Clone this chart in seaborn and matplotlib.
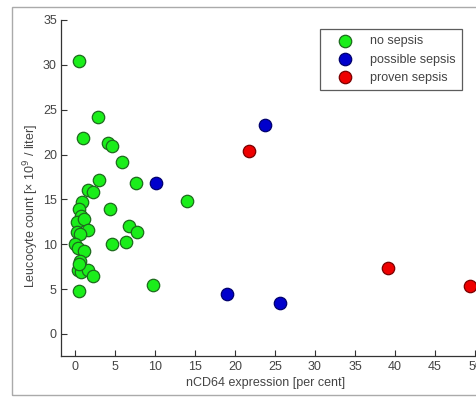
import matplotlib
matplotlib.use("Agg")
import matplotlib.pyplot as plt
import matplotlib.patches as mpatches
import seaborn as sns
import pandas as pd

# ---- data ----
no_sepsis_x = [0.5, 2.9, 1.0, 4.1, 4.6, 5.9, 3.0, 7.6, 1.6, 2.3, 0.9, 4.4, 0.5, 0.8,
               0.3, 1.1, 6.8, 7.7, 0.2, 1.6, 0.6, 4.6, 6.4, 0.0, 0.4, 1.1, 0.6, 0.4,
               0.8, 1.6, 2.3, 0.5, 9.8, 14.0, 0.5]
no_sepsis_y = [30.4, 24.2, 21.8, 21.3, 21.0, 19.2, 17.2, 16.8, 16.0, 15.8, 14.7, 13.9, 13.9, 13.2,
               12.5, 12.8, 12.0, 11.4, 11.4, 11.6, 11.2, 10.0, 10.2, 10.0, 9.6, 9.3, 8.1, 7.1,
               6.9, 7.1, 6.5, 4.8, 5.5, 14.8, 7.8]
possible_x = [10.1, 23.8, 19.0, 25.6]
possible_y = [16.8, 23.3, 4.5, 3.5]
proven_x = [21.8, 39.1, 49.4]
proven_y = [20.4, 7.3, 5.4]

groups = ["no sepsis", "possible sepsis", "proven sepsis"]
fill_colors = {"no sepsis": "#1aee1a", "possible sepsis": "#0000cc", "proven sepsis": "#ee0000"}
edge_colors = {"no sepsis": "#1d6b1d", "possible sepsis": "#00006e", "proven sepsis": "#7a0000"}

df = pd.concat([
    pd.DataFrame({"x": no_sepsis_x, "y": no_sepsis_y, "group": "no sepsis"}),
    pd.DataFrame({"x": possible_x, "y": possible_y, "group": "possible sepsis"}),
    pd.DataFrame({"x": proven_x, "y": proven_y, "group": "proven sepsis"}),
], ignore_index=True)

sns.set_style("white")
plt.rcParams["font.family"] = ["Liberation Sans", "DejaVu Sans"]

W, H = 477, 401
fig = plt.figure(figsize=(W / 100, H / 100), dpi=100)
fig.patch.set_facecolor("white")

# outer light gray frame
fig.patches.append(mpatches.Rectangle((12 / W, 1 - 395 / H), 1.2, (395 - 7) / H,
                                      transform=fig.transFigure, fill=False,
                                      edgecolor="#aaaaaa", linewidth=1.0))

ax = fig.add_axes([61 / W, 1 - 356.4 / H, 422 / W, (356.4 - 20) / H])
ax.set_facecolor("white")

for g in groups:
    sub = df[df["group"] == g]
    sns.scatterplot(data=sub, x="x", y="y", ax=ax, s=80, color=fill_colors[g],
                    edgecolor=edge_colors[g], linewidth=0.9, label=g, zorder=3,
                    clip_on=False)

ax.set_xlim(-1.75, 51)
ax.set_ylim(-2.5, 35)
ax.set_xticks(list(range(0, 51, 5)))
ax.set_yticks(list(range(0, 36, 5)))

for side in ["top", "right"]:
    ax.spines[side].set_visible(False)
for side in ["left", "bottom"]:
    ax.spines[side].set_color("#333333")
    ax.spines[side].set_linewidth(0.9)

ax.tick_params(direction="in", length=4, width=0.8, colors="#333333",
               labelsize=9, labelcolor="#444444", left=True, bottom=True, pad=3)

ax.set_xlabel("nCD64 expression [per cent]", fontsize=9, color="#444444")
ax.set_ylabel("Leucocyte count [× 10$^9$ / liter]", fontsize=9, color="#444444")
ax.xaxis.set_label_coords((266 - 61) / 422, -(377 - 356.4) / (356.4 - 20))
ax.yaxis.set_label_coords(-(61 - 41) / 422, (356.4 - 206) / (356.4 - 20))

leg = ax.legend(loc="upper left", bbox_to_anchor=(320 / W, 1 - 29 / H),
                bbox_transform=fig.transFigure, borderaxespad=0, frameon=True,
                fancybox=False, fontsize=9, handletextpad=0.5, labelspacing=0.5,
                borderpad=0.5, handlelength=3.0)
leg.get_frame().set_edgecolor("#333333")
leg.get_frame().set_linewidth(0.9)
for t in leg.get_texts():
    t.set_color("#444444")

fig.savefig("out.png", dpi=100, facecolor="white")
